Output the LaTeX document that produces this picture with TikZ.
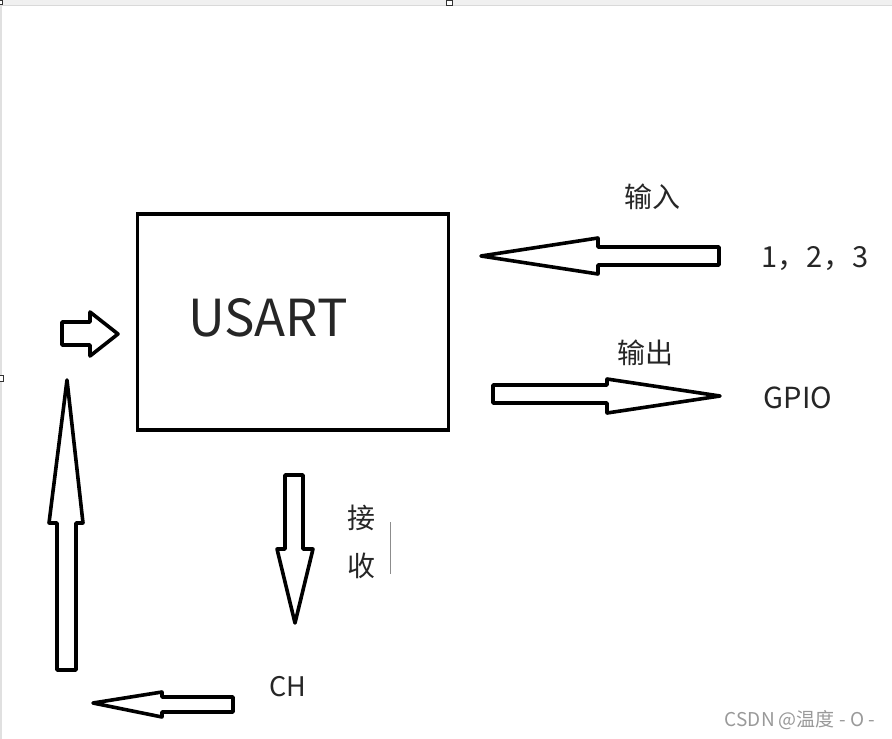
\documentclass[tikz,border=0pt]{standalone}
\usepackage{fontspec}
\newfontfamily\cjk{Noto Sans CJK SC}
\usetikzlibrary{positioning}

\begin{document}
\begin{tikzpicture}[
    x=1pt, y=-1pt,
    hollow/.style={draw=black, line width=3.6pt, line join=round, fill=white},
    lbl/.style={font=\cjk\fontsize{#1}{#1}\selectfont, inner sep=0pt, text=black!85},
    lbl/.default=28,
    handle/.style={draw=black!80, line width=1pt, fill=white},
]
% Frame of the screenshot
\useasboundingbox (0,0) rectangle (892,739);
\fill[black!6] (0,0) rectangle (892,5);
\draw[black!15, line width=1pt] (0,5.5) -- (892,5.5);
\draw[black!12, line width=2pt] (1,5) -- (1,739);
\draw[handle] (446,0) rectangle (452,5);
\draw[handle] (-1,0) rectangle (2,4);
\draw[handle] (-1,375) rectangle (3,381);

% USART block
\node[draw, line width=3.2pt, outer sep=0pt, minimum width=311pt, minimum height=216pt,
      anchor=north west] (usart) at (137.5,214) {};
\node[lbl=51] (usartlbl) at (268,318) {USART};

% Labels
\node[lbl] (inlbl) at (652,197) {输入};
\node[lbl=29] (pins) at (815,259) {1，2，3};
\node[lbl] (outlbl) at (645,353) {输出};
\node[lbl=29] (gpio) at (798,398) {GPIO};
\node[lbl] (jie) at (361,518) {接};
\node[lbl] (shou) at (361,566) {收};
\node[lbl=27] (ch) at (288,687) {CH};
\node[lbl=19, text=black!40] (mark) at (800,720) {CSDN @温度 - O -};
\draw[black!45, line width=1pt] (390,522) -- (390,574);

% Block arrows
\draw[hollow] (481,256) -- (598,238) -- (598,247) -- (719,247) -- (719,265)
    -- (598,265) -- (598,274) -- cycle;
\draw[hollow] (493,385) -- (607,385) -- (607,379) -- (720,396) -- (607,413)
    -- (607,403) -- (493,403) -- cycle;
\draw[hollow] (62,322) -- (90,322) -- (90,312) -- (118,334) -- (90,356)
    -- (90,345) -- (62,345) -- cycle;
\draw[hollow] (57,670) -- (57,523) -- (49,523) -- (67,380) -- (83,523)
    -- (76,523) -- (76,670) -- cycle;
\draw[hollow] (285,475) -- (303,475) -- (303,549) -- (313,549) -- (295,623)
    -- (277,549) -- (285,549) -- cycle;
\draw[hollow] (233,697) -- (162,697) -- (162,692) -- (93,703) -- (162,717)
    -- (162,712) -- (233,712) -- cycle;
\end{tikzpicture}
\end{document}
